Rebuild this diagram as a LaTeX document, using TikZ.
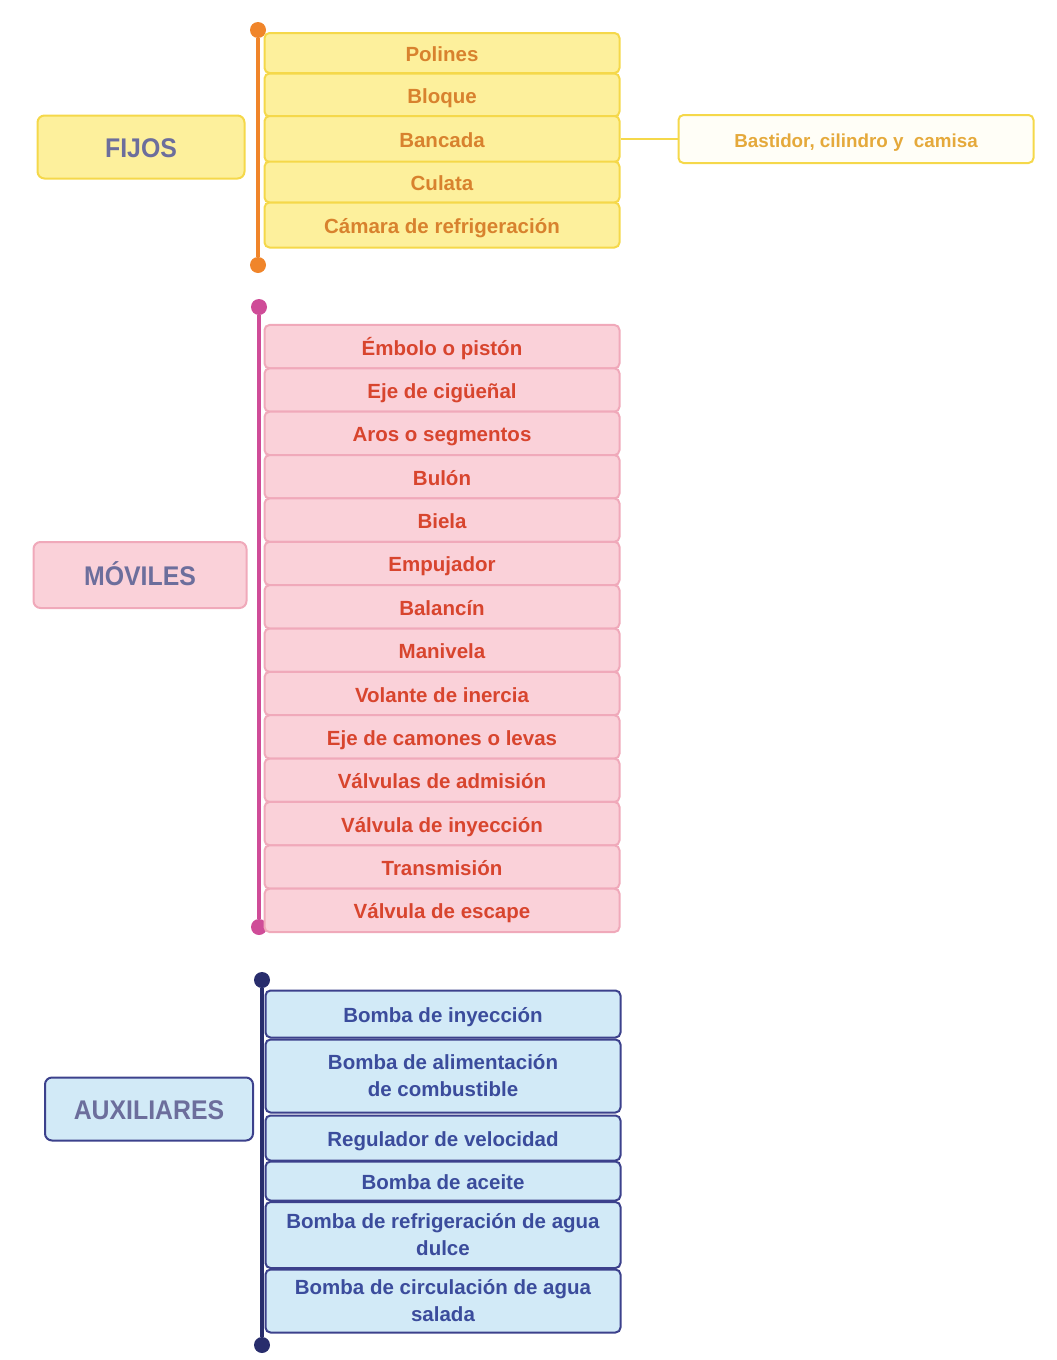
\documentclass[tikz,border=0pt]{standalone}
\usepackage{fontspec}
\setmainfont{Liberation Sans}
\newfontfamily\titlefont[FakeStretch=0.92]{Liberation Sans}
\usetikzlibrary{positioning}

\definecolor{fijofill}{HTML}{FDF09C}
\definecolor{fijoline}{HTML}{F5D84A}
\definecolor{fijotext}{HTML}{D8822E}
\definecolor{fijoaxis}{HTML}{F0852A}
\definecolor{movfill}{HTML}{FAD1D9}
\definecolor{movline}{HTML}{F0A9BA}
\definecolor{movtext}{HTML}{D8452E}
\definecolor{movaxis}{HTML}{CF4C98}
\definecolor{auxfill}{HTML}{D2EAF7}
\definecolor{auxline}{HTML}{3C418C}
\definecolor{auxtext}{HTML}{3B4C9C}
\definecolor{auxaxis}{HTML}{282D6C}
\definecolor{titletext}{HTML}{6C6E9C}

\tikzset{
  itembox/.style={draw, line width=2pt, rounded corners=5pt, minimum width=355pt,
    align=center, font=\fontsize{20.5}{27}\selectfont\bfseries, inner sep=2pt},
  oneline/.style={text height=18pt, text depth=1pt},
  titlebox/.style={draw, line width=2pt, rounded corners=7pt, text height=22pt, text depth=1pt,
    font=\titlefont\fontsize{27}{30}\selectfont\bfseries, text=titletext},
  enddot/.style={circle, fill, inner sep=0pt, minimum size=16pt},
  axis/.style={line width=3.5pt},
}

\begin{document}
\begin{tikzpicture}[x=1pt, y=-1pt]
    \useasboundingbox (0,0) rectangle (1057,1360);

    % FIJOS
    \node[enddot, fijoaxis] (ftop) at (258,30) {};
    \node[enddot, fijoaxis] (fbot) at (258,265) {};
    \draw[axis, fijoaxis] (ftop) -- (fbot);
    \node[titlebox, fill=fijofill, draw=fijoline, minimum width=207pt, minimum height=63pt] (fijos) at (141,147) {FIJOS};
    \foreach \name/\yc/\h/\txt in {
        f1/53/40/Polines,
        f2/95/43/Bloque,
        f3/139/46/Bancada,
        f4/182/41/Culata,
        f5/225/45/Cámara de refrigeración} {
      \node[itembox, oneline, fill=fijofill, draw=fijoline, text=fijotext, minimum height=\h pt] (\name) at (442,\yc) {\txt};
    }
    \node[itembox, oneline, fill=white!92!fijofill, draw=fijoline, text=fijotext!55!fijoline,
      minimum width=355pt, minimum height=48pt, font=\fontsize{18.8}{22}\selectfont\bfseries]
      (bastidor) at (856,139) {Bastidor, cilindro y\ \ camisa};
    \draw[fijoline, line width=2.5pt] (f3.east) -- (bastidor.west);

    % MOVILES
    \node[enddot, movaxis] (mtop) at (259,307) {};
    \node[enddot, movaxis] (mbot) at (259,927) {};
    \draw[axis, movaxis] (mtop) -- (mbot);
    \node[titlebox, fill=movfill, draw=movline, minimum width=213pt, minimum height=66pt] (moviles) at (140,575) {MÓVILES};
    \foreach \txt [count=\i] in {
        Émbolo o pistón, Eje de cigüeñal, Aros o segmentos, Bulón, Biela,
        Empujador, Balancín, Manivela, Volante de inercia, Eje de camones o levas,
        Válvulas de admisión, Válvula de inyección, Transmisión, Válvula de escape} {
      \node[itembox, oneline, fill=movfill, draw=movline, text=movtext, minimum height=43.4pt] (m\i) at (442,{325+(\i-0.5)*43.36}) {\txt};
    }

    % AUXILIARES
    \node[enddot, auxaxis] (atop) at (262,980) {};
    \node[enddot, auxaxis] (abot) at (262,1345) {};
    \draw[axis, auxaxis] (atop) -- (abot);
    \node[titlebox, fill=auxfill, draw=auxline, minimum width=208pt, minimum height=63pt] (aux) at (149,1109) {AUXILIARES};
    \foreach \name/\yc/\h/\opt/\txt in {
        a1/1014/47/oneline/Bomba de inyección,
        a2/1076/73/{}/{Bomba de alimentación\\de combustible},
        a3/1138/45/oneline/Regulador de velocidad,
        a4/1181/39/oneline/Bomba de aceite,
        a5/1235/66/{}/{Bomba de refrigeración de agua\\dulce},
        a6/1301/63/{}/{Bomba de circulación de agua\\salada}} {
      \node[itembox, \opt, fill=auxfill, draw=auxline, text=auxtext, minimum height=\h pt] (\name) at (443,\yc) {\txt};
    }
\end{tikzpicture}
\end{document}
